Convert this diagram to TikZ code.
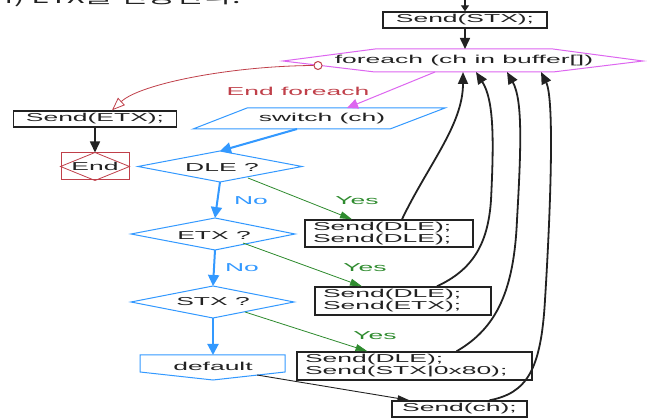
\documentclass[tikz,border=0pt]{standalone}
\usepackage{fontspec}
\setmainfont{Liberation Sans}[FakeStretch=2.3]
\newfontfamily\krfont{Noto Sans CJK KR}[FakeStretch=1.8]
\usetikzlibrary{arrows.meta,calc}

\definecolor{flowblue}{HTML}{3399FF}
\definecolor{flowmag}{HTML}{DD66F0}
\definecolor{flowgreen}{HTML}{2E8B2E}
\definecolor{flowred}{HTML}{C0404A}
\definecolor{ink}{HTML}{222222}

\tikzset{
  lbl/.style={inner sep=0, font=\fontsize{11.5}{12}\selectfont, text=ink},
  cbox/.style={draw=ink, line width=1.4pt, inner sep=0, text=ink,
    font=\fontsize{11.5}{12}\selectfont},
  cbox2/.style={cbox, align=left, inner xsep=8pt},
  shapeblue/.style={draw=flowblue, line width=1pt, line join=miter},
  shapemag/.style={draw=flowmag, line width=1pt},
  bluearrow/.style={draw=flowblue, line width=2pt,
    -{Triangle[length=11pt,width=11pt]}},
  greenarrow/.style={draw=flowgreen, line width=0.8pt,
    -{Triangle[length=12pt,width=7pt]}},
  magarrow/.style={draw=flowmag, line width=1pt,
    -{Triangle[length=11pt,width=10pt]}},
  blackarrow/.style={draw=ink, line width=1.6pt,
    -{Triangle[length=11pt,width=10pt]}},
  loopback/.style={draw=ink, line width=1.8pt,
    -{Triangle[length=12pt,width=10pt]}},
  exitarrow/.style={draw=flowred, line width=0.8pt,
    -{Triangle[open,length=13pt,width=10pt]}},
}

\begin{document}
\begin{tikzpicture}[x=1pt,y=-1pt]
\useasboundingbox[fill=white] (0,0) rectangle (659,419);
\clip (0,0) rectangle (659,419);

% heading line above the chart
\node[anchor=base west, inner sep=0, text=ink,
  font=\krfont\fontsize{17}{17}\selectfont] (heading) at (-3,4) {4) ETX를 전송한다.};

% entry and first send
\coordinate (entry) at (465,-2);
\node[cbox, minimum width=164, minimum height=16] (stx) at (465,20) {Send(STX);};
\draw[draw=ink, line width=1.4pt, -{Triangle[length=6pt,width=8pt]}] (entry) -- (stx.north);

% foreach loop header (hexagon)
\coordinate (feL) at (283,61);
\coordinate (feTL) at (375,49);
\coordinate (feTR) at (553,49);
\coordinate (feR) at (643,61);
\coordinate (feBR) at (553,72);
\coordinate (feBL) at (375,72);
\draw[shapemag] (feL) -- (feTL) -- (feTR) -- (feR) -- (feBR) -- (feBL) -- cycle;
\node[lbl] (foreach) at (464,61) {foreach (ch in buffer[])};
\coordinate (feTop) at (465,49);
\draw[blackarrow] (stx.south) -- (feTop);

% loop exit
\node[circle, draw=flowred, line width=1pt, inner sep=0, minimum size=8pt, fill=white] (exitc) at (318,65.5) {};
\node[cbox, minimum width=163, minimum height=16] (setx) at (95,119) {Send(ETX);};
\draw[exitarrow] (exitc.west) .. controls (230,66) and (140,84) .. ([xshift=17]setx.north);
\node[lbl, text=flowred] (endfe) at (298,91) {End foreach};

% end terminal
\node[draw=flowred, line width=1pt, minimum width=68, minimum height=27, inner sep=0,
  font=\fontsize{11.5}{12}\selectfont, text=ink] (endn) at (95,166.5) {End};
\draw[flowred, line width=0.8pt] (endn.north) -- (endn.west) -- (endn.south) -- (endn.east) -- cycle;
\draw[blackarrow] (setx.south) -- (endn.north);

% switch (parallelogram)
\coordinate (swBL) at (193,129);
\coordinate (swTL) at (247,108);
\coordinate (swTR) at (445,108);
\coordinate (swBR) at (390,129);
\draw[shapeblue] (swBL) -- (swTL) -- (swTR) -- (swBR) -- cycle;
\node[lbl] (switch) at (322,119) {switch (ch)};
\coordinate (feOut) at (435,72);
\coordinate (swIn) at (347,108);
\draw[magarrow] (feOut) -- (swIn);

% case DLE
\coordinate (dleL) at (138,166.5);
\coordinate (dleT) at (220,151);
\coordinate (dleR) at (302,166.5);
\coordinate (dleB) at (220,182);
\draw[shapeblue] (dleL) -- (dleT) -- (dleR) -- (dleB) -- cycle;
\node[lbl] (dle) at (222,167) {DLE ?};
\coordinate (swOut) at (297,129);
\draw[bluearrow] (swOut) -- (dleT);

% case ETX
\coordinate (etxL) at (131,234);
\coordinate (etxT) at (215,218);
\coordinate (etxR) at (295,234);
\coordinate (etxB) at (215,250);
\draw[shapeblue] (etxL) -- (etxT) -- (etxR) -- (etxB) -- cycle;
\node[lbl] (etx) at (214,235) {ETX ?};
\draw[bluearrow] (dleB) -- (etxT);
\node[lbl, text=flowblue] (no1) at (251,201) {No};

% case STX
\coordinate (stxL) at (131,302);
\coordinate (stxT) at (213,286);
\coordinate (stxR) at (294,302);
\coordinate (stxB) at (213,318);
\draw[shapeblue] (stxL) -- (stxT) -- (stxR) -- (stxB) -- cycle;
\node[lbl] (stxq) at (213,302) {STX ?};
\draw[bluearrow] (etxB) -- (stxT);
\node[lbl, text=flowblue] (no2) at (242,268) {No};

% default case
\coordinate (dfTL) at (140,355);
\coordinate (dfTR) at (285,355);
\coordinate (dfR) at (285,372);
\coordinate (dfB) at (213,380);
\coordinate (dfL) at (140,372);
\coordinate (dfTop) at (213,355);
\draw[shapeblue] (dfTL) -- (dfTR) -- (dfR) -- (dfB) -- (dfL) -- cycle;
\node[lbl] (dflt) at (213,366) {default};
\draw[bluearrow] (stxB) -- (dfTop);

% case bodies
\node[cbox2, text width=152, minimum height=27] (b1) at (389,233.5) {Send(DLE);\\Send(DLE);};
\node[cbox2, text width=160, minimum height=28] (b2) at (403,301) {Send(DLE);\\Send(ETX);};
\node[cbox2, text width=219, minimum height=28] (b3) at (414.5,366) {Send(DLE);\\Send(STX|0x80);};
\node[cbox, minimum width=135, minimum height=16] (sch) at (459.5,409) {Send(ch);};

% yes branches
\coordinate (dleY) at (248,178);
\coordinate (etxY) at (243,243);
\coordinate (stxY) at (245,312);
\draw[greenarrow] (dleY) -- ([xshift=-37]b1.north);
\node[lbl, text=flowgreen] (yes1) at (357,201) {Yes};
\draw[greenarrow] (etxY) -- ([xshift=-41]b2.north);
\node[lbl, text=flowgreen] (yes2) at (365,268) {Yes};
\draw[greenarrow] (stxY) -- ([xshift=-47]b3.north);
\node[lbl, text=flowgreen] (yes3) at (375,336) {Yes};

% default body
\coordinate (dfOut) at (257,375);
\draw[draw=ink, line width=0.9pt, -{Triangle[length=12pt,width=6pt]}] (dfOut) -- ([xshift=-50]sch.north);

% back edges to the loop header
\coordinate (fA) at (463,72);
\coordinate (fB) at (476,72);
\coordinate (fC) at (507,72);
\coordinate (fD) at (541,72);
\draw[loopback] ([xshift=13]b1.north) .. controls (428,165) and (463,125) .. (fA);
\draw[loopback] ([xshift=34]b2.north) .. controls (472,270) and (488,245) .. (491,200)
  .. controls (494,140) and (494,100) .. (fB);
\draw[loopback] ([xshift=42]b3.north) .. controls (497,328) and (514,290) .. (517,220)
  .. controls (521,150) and (523,100) .. (fC);
\draw[loopback] ([xshift=30]sch.north) .. controls (527,393) and (541,370) .. (545,300)
  .. controls (550,220) and (555,100) .. (fD);
\end{tikzpicture}
\end{document}
